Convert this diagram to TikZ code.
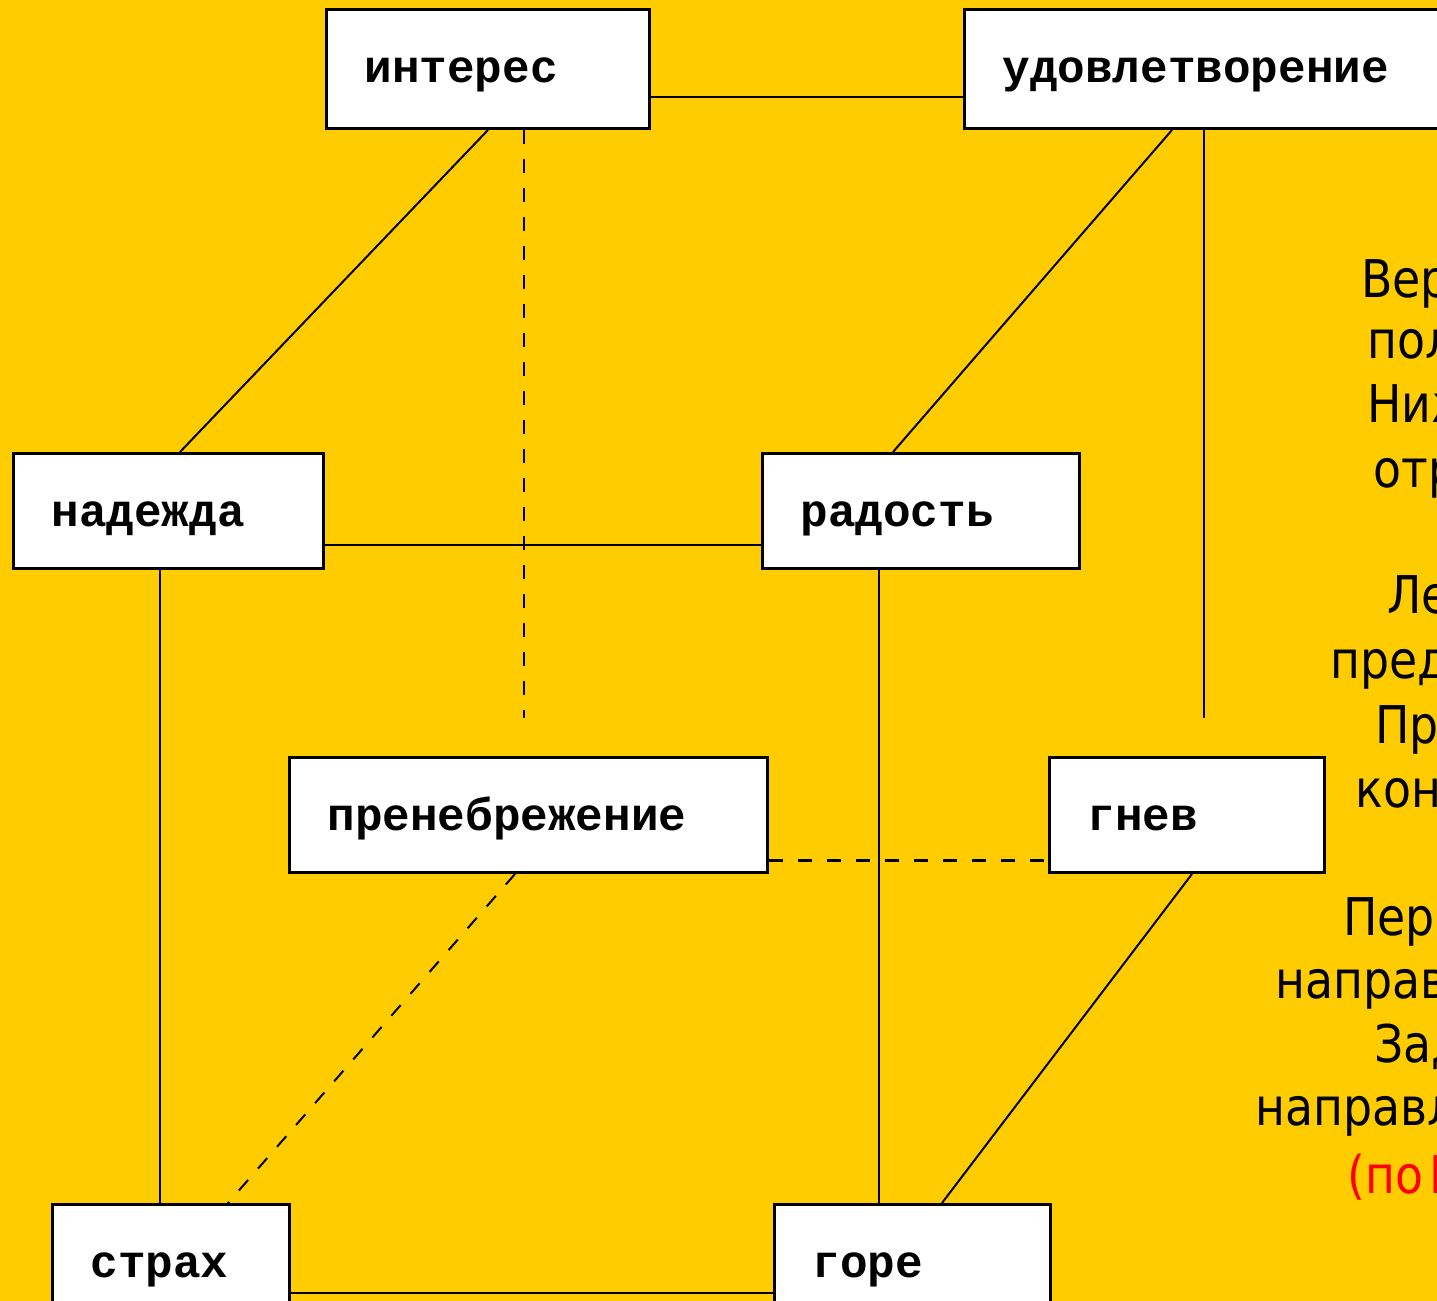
\documentclass[tikz,border=0pt]{standalone}
\usepackage{fontspec}
\usepackage{xcolor}
\usepackage{tikz}
\usetikzlibrary{positioning}
\newfontfamily\boxfont{Liberation Mono}
\newfontfamily\notefont[FakeStretch=0.88]{DejaVu Sans}
\definecolor{bgyellow}{RGB}{255, 204, 0}
\definecolor{notered}{RGB}{255, 0, 0}

\begin{document}
\begin{tikzpicture}[
    x=0.5pt, y=-0.5pt,
    box/.style={rectangle, draw, fill=white, line width=1.5pt, anchor=north west, inner xsep=19pt, inner ysep=0pt, text height=36.5pt, text depth=21pt, align=left, font=\boxfont\bfseries\fontsize{23}{23}\selectfont},
    link/.style={line width=1pt},
    dashlink/.style={line width=1.2pt, dash pattern=on 7pt off 7.5pt},
    note/.style={anchor=base west, inner sep=0pt, font=\notefont\fontsize{26}{26}\selectfont}
]
    \useasboundingbox (0,0) rectangle (1437,1301);
    \fill[bgyellow] (0,0) rectangle (1437,1301);
    \clip (0,0) rectangle (1437,1301);

    % emotion boxes
    \node[box, text width=123.5pt, text depth=23pt] (interes) at (325,8) {интерес};
    \node[box, text width=220.5pt, text depth=23pt] (udovl) at (963,8) {удовлетворение};
    \node[box, text width=117pt] (nadezhda) at (12,452) {надежда};
    \node[box, text width=120.5pt] (radost) at (761,452) {радость};
    \node[box, text width=201pt] (preneb) at (288,756) {пренебрежение};
    \node[box, text width=99.5pt] (gnev) at (1048,756) {гнев};
    \node[box, text width=80.5pt] (strakh) at (51,1203) {страх};
    \node[box, text width=100pt] (gore) at (773,1203) {горе};

    \coordinate (interes_end) at (524,718);
    \coordinate (udovl_end) at (1204,718);

    % edges of the cube
    \draw[link] ([yshift=-14pt]interes.east) -- ([yshift=-14pt]udovl.west);
    \draw[link] (interes.south) -- ([xshift=5.75pt]nadezhda.north);
    \draw[dashlink] ([xshift=18pt]interes.south) -- (interes_end);
    \draw[link] ([xshift=-25.5pt]udovl.south) -- ([xshift=-14pt]radost.north);
    \draw[link] ([xshift=-9.5pt]udovl.south) -- (udovl_end);
    \draw[link] ([yshift=-17pt]nadezhda.east) -- ([yshift=-17pt]radost.west);
    \draw[link] ([xshift=-4.25pt]nadezhda.south) -- ([xshift=-4.25pt]nadezhda.south |- strakh.north);
    \draw[link] ([xshift=-21pt]radost.south) -- ([xshift=-21pt]radost.south |- gore.north);
    \draw[dashlink] ([yshift=-22.75pt]preneb.east) -- ([yshift=-22.75pt]preneb.east -| gnev.west);
    \draw[dashlink, line width=1pt] ([xshift=-6.75pt]preneb.south) -- ([xshift=28.5pt]strakh.north);
    \draw[link] ([xshift=2.5pt]gnev.south) -- ([xshift=14.75pt]gore.north);
    \draw[link] ([yshift=-45pt]strakh.north east) -- ([yshift=-45pt]strakh.north east -| gore.west);

    % notes on the right, cut by the edge
    \node[note] (n1) at (1361,297) {Верх};
    \node[note] (n2) at (1367,358) {поло};
    \node[note] (n3) at (1367,422) {Нижн};
    \node[note] (n4) at (1373,487) {отри};
    \node[note] (n5) at (1387,613) {Лев};
    \node[note] (n6) at (1330,678) {пред};
    \node[note] (n7) at (1375,743) {Пра};
    \node[note] (n8) at (1355,807) {кон};
    \node[note] (n9) at (1343,935) {Пере};
    \node[note] (n10) at (1275,998) {направл};
    \node[note] (n11) at (1374,1062) {Зад};
    \node[note] (n12) at (1255,1125) {направле};
    \node[note, text=notered] (n13) at (1347,1193) {(по\hspace{0.12em}Из};
\end{tikzpicture}
\end{document}
